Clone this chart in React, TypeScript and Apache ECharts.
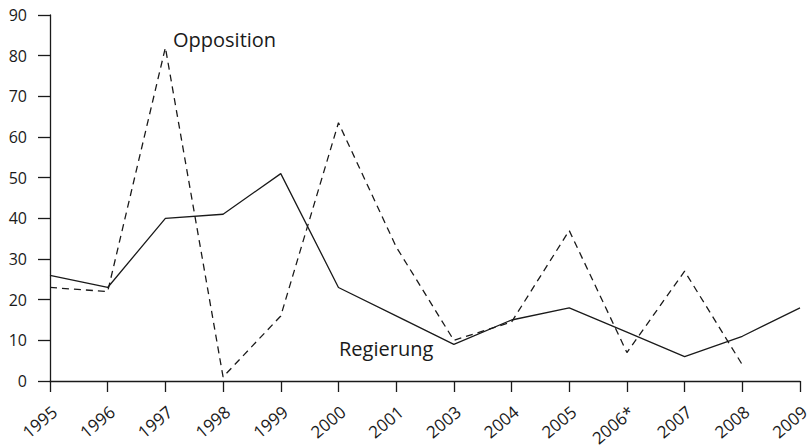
import React, { useEffect, useRef } from "react";
import * as echarts from "echarts";

const years = ["1995", "1996", "1997", "1998", "1999", "2000", "2001", "2003", "2004", "2005", "2006*", "2007", "2008", "2009"];
const regierung = [26, 23, 40, 41, 51, 23, 16, 9, 15, 18, 12, 6, 11, 18];
const opposition: (number | null)[] = [23, 22, 82, 1, 16, 63.5, 33, 10, 14.5, 37, 7, 27, 4, null];
const yTicks = { min: 0, max: 90, interval: 10 };

const FONT = "'Open Sans', 'Noto Sans', sans-serif";
const INK = "#1a1a1a";

export default function App() {
  const ref = useRef<HTMLDivElement>(null);
  useEffect(() => {
    if (!ref.current) return;
    const chart = echarts.init(ref.current, null, { renderer: "svg" });
    chart.setOption({
      animation: false,
      backgroundColor: "#ffffff",
      grid: { left: 50, right: 9, top: 15, bottom: 64, containLabel: false, outerBoundsMode: "none" },
      xAxis: {
        type: "category",
        data: years,
        boundaryGap: false,
        axisLine: { lineStyle: { color: INK, width: 1.3 } },
        axisTick: { length: 11, lineStyle: { color: INK, width: 1.3 } },
        axisLabel: {
          rotate: 40,
          margin: 23,
          align: "right",
          verticalAlign: "top",
          lineHeight: 14,
          color: INK,
          fontSize: 17,
          fontFamily: FONT,
        },
      },
      yAxis: {
        type: "value",
        min: yTicks.min,
        max: yTicks.max,
        interval: yTicks.interval,
        splitLine: { show: false },
        axisLine: { show: true, lineStyle: { color: INK, width: 1.3 } },
        axisTick: { show: true, length: 12, lineStyle: { color: INK, width: 1.3 } },
        axisLabel: { margin: 23, color: INK, fontSize: 16, fontFamily: FONT },
      },
      series: [
        {
          name: "Regierung",
          type: "line",
          data: regierung,
          symbol: "none",
          lineStyle: { color: INK, width: 1.3 },
        },
        {
          name: "Opposition",
          type: "line",
          data: opposition,
          symbol: "none",
          lineStyle: { color: INK, width: 1.3, type: [7, 5] },
        },
      ],
      graphic: [
        { type: "text", left: 173, top: 29, style: { text: "Opposition", fontSize: 20, fontFamily: FONT, fill: INK } },
        { type: "text", left: 339, top: 338, style: { text: "Regierung", fontSize: 20, fontFamily: FONT, fill: INK } },
      ],
    });
    return () => chart.dispose();
  }, []);
  return <div ref={ref} style={{ width: 809, height: 445, position: "absolute", left: 0, top: 0 }} />;
}
